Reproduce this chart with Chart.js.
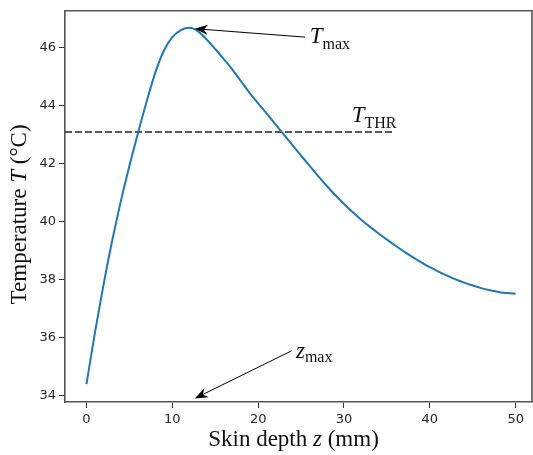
<!DOCTYPE html>
<html>
<head>
<meta charset="utf-8">
<script src="https://cdn.jsdelivr.net/npm/chart.js@4/dist/chart.umd.min.js"></script>
<style>
  html, body { margin: 0; padding: 0; background: #fff; }
  #wrap { width: 533px; height: 455px; }
</style>
</head>
<body>
<div id="wrap"><canvas id="c" width="533" height="455"></canvas></div>
<script>
// ---- data ----
const depthMM = [0,1,2,3,4,5,6,7,8,9,10,11,12,13,14,15,16,17,18,19,20,21,22,23,24,25,26,27,28,29,30,31,32,33,34,35,36,37,38,39,40,41,42,43,44,45,46,47,48,49,50];
const temperatureC = [34.40,36.20,37.85,39.35,40.70,41.92,43.05,44.13,45.12,45.88,46.36,46.60,46.68,46.56,46.28,45.95,45.60,45.24,44.84,44.44,44.08,43.72,43.36,43.00,42.64,42.28,41.92,41.57,41.23,40.91,40.61,40.33,40.07,39.83,39.60,39.38,39.17,38.97,38.78,38.60,38.43,38.28,38.14,38.01,37.90,37.80,37.71,37.64,37.58,37.54,37.52];
const thresholdT = 43.09;
const thresholdSpan = [-2.5, 35.7];
const xTicks = [0,10,20,30,40,50];
const yTicks = [34,36,38,40,42,44,46];
const xRange = [-2.5, 51.9];
const yRange = [33.786, 47.267];
// annotations in data coordinates
const tmaxArrow = {tail:[25.45,46.36], tip:[12.62,46.65]};
const tmaxLabel = [26.0, 46.15];
const zmaxArrow = {tail:[23.9,35.55], tip:[12.62,33.91]};
const zmaxLabel = [24.4, 35.30];
const tthrLabel = [30.9, 43.42];

const SERIF = '"Liberation Serif", "Times New Roman", serif';

function drawParts(ctx, parts, x, y, align) {
  let total = 0;
  parts.forEach(p => {
    ctx.font = (p.italic ? 'italic ' : '') + p.size + 'px ' + SERIF;
    p.w = ctx.measureText(p.t).width;
    total += p.w;
  });
  let cx = align === 'center' ? x - total / 2 : x;
  ctx.textAlign = 'left';
  ctx.textBaseline = 'alphabetic';
  parts.forEach(p => {
    ctx.font = (p.italic ? 'italic ' : '') + p.size + 'px ' + SERIF;
    ctx.fillText(p.t, cx, y + (p.dy || 0));
    cx += p.w;
  });
}

function drawArrow(ctx, x0, y0, x1, y1) {
  const ang = Math.atan2(y1 - y0, x1 - x0);
  const L = 13, W = 5, notch = 9;
  const bx = x1 - Math.cos(ang) * notch, by = y1 - Math.sin(ang) * notch;
  ctx.save();
  ctx.strokeStyle = '#000';
  ctx.fillStyle = '#000';
  ctx.lineWidth = 1;
  ctx.beginPath();
  ctx.moveTo(x0, y0);
  ctx.lineTo(bx, by);
  ctx.stroke();
  const backX = x1 - Math.cos(ang) * L, backY = y1 - Math.sin(ang) * L;
  const px = -Math.sin(ang), py = Math.cos(ang);
  ctx.beginPath();
  ctx.moveTo(x1, y1);
  ctx.lineTo(backX + px * W, backY + py * W);
  ctx.lineTo(bx, by);
  ctx.lineTo(backX - px * W, backY - py * W);
  ctx.closePath();
  ctx.fill();
  ctx.restore();
}

const decor = {
  id: 'decor',
  afterDraw(chart) {
    const {ctx, chartArea: ca, scales} = chart;
    const X = scales.x, Y = scales.y;
    ctx.save();
    // top and right spines
    ctx.strokeStyle = '#555';
    ctx.lineWidth = 1.6;
    ctx.beginPath();
    ctx.moveTo(ca.left, ca.top);
    ctx.lineTo(ca.right, ca.top);
    ctx.lineTo(ca.right, ca.bottom);
    ctx.stroke();

    ctx.fillStyle = '#111';
    // T_max
    drawArrow(ctx, X.getPixelForValue(tmaxArrow.tail[0]), Y.getPixelForValue(tmaxArrow.tail[1]),
                   X.getPixelForValue(tmaxArrow.tip[0]), Y.getPixelForValue(tmaxArrow.tip[1]));
    drawParts(ctx, [{t:'T', italic:true, size:23}, {t:'max', size:16, dy:6}],
              X.getPixelForValue(tmaxLabel[0]), Y.getPixelForValue(tmaxLabel[1]), 'left');
    // z_max
    drawArrow(ctx, X.getPixelForValue(zmaxArrow.tail[0]), Y.getPixelForValue(zmaxArrow.tail[1]),
                   X.getPixelForValue(zmaxArrow.tip[0]), Y.getPixelForValue(zmaxArrow.tip[1]));
    drawParts(ctx, [{t:'z', italic:true, size:23}, {t:'max', size:16, dy:4}],
              X.getPixelForValue(zmaxLabel[0]), Y.getPixelForValue(zmaxLabel[1]), 'left');
    // T_THR
    drawParts(ctx, [{t:'T', italic:true, size:23}, {t:'THR', size:16, dy:6}],
              X.getPixelForValue(tthrLabel[0]), Y.getPixelForValue(tthrLabel[1]), 'left');

    // axis titles
    drawParts(ctx, [{t:'Skin depth ', size:23}, {t:'z', italic:true, size:23}, {t:' (mm)', size:23}],
              (ca.left + ca.right) / 2 - 5, 446, 'center');
    ctx.save();
    ctx.translate(26, (ca.top + ca.bottom) / 2 + 8);
    ctx.rotate(-Math.PI / 2);
    drawParts(ctx, [{t:'Temperature ', size:23}, {t:'T', italic:true, size:23}, {t:' (°C)', size:23}],
              0, 0, 'center');
    ctx.restore();
    ctx.restore();
  }
};

const tickFont = {family: '"DejaVu Sans", sans-serif', size: 13};

new Chart(document.getElementById('c'), {
  type: 'line',
  data: {
    datasets: [
      {
        data: depthMM.map((z, i) => ({x: z, y: temperatureC[i]})),
        borderColor: '#1f77b4',
        borderWidth: 2,
        pointRadius: 0,
        cubicInterpolationMode: 'monotone',
        fill: false
      },
      {
        data: thresholdSpan.map(z => ({x: z, y: thresholdT})),
        borderColor: '#222',
        borderWidth: 1.3,
        borderDash: [7, 3],
        pointRadius: 0,
        fill: false
      }
    ]
  },
  options: {
    responsive: false,
    animation: false,
    devicePixelRatio: 1,
    layout: {padding: {left: 0, right: 1, top: 5, bottom: 0}},
    plugins: {legend: {display: false}, tooltip: {enabled: false}},
    scales: {
      x: {
        type: 'linear',
        min: xRange[0], max: xRange[1],
        afterBuildTicks: s => { s.ticks = xTicks.map(v => ({value: v})); },
        afterFit: s => { s.height = 53; },
        ticks: {font: tickFont, color: '#262626', padding: 4, maxRotation: 0, autoSkip: false},
        grid: {drawOnChartArea: false, drawTicks: true, tickLength: 6, tickColor: '#333', lineWidth: 1},
        border: {display: true, color: '#555', width: 1.6}
      },
      y: {
        type: 'linear',
        min: yRange[0], max: yRange[1],
        afterBuildTicks: s => { s.ticks = yTicks.map(v => ({value: v})); },
        afterFit: s => { s.width = 65; },
        ticks: {font: tickFont, color: '#262626', padding: 3, autoSkip: false},
        grid: {drawOnChartArea: false, drawTicks: true, tickLength: 6, tickColor: '#333', lineWidth: 1},
        border: {display: true, color: '#555', width: 1.6}
      }
    }
  },
  plugins: [decor]
});
</script>
</body>
</html>
